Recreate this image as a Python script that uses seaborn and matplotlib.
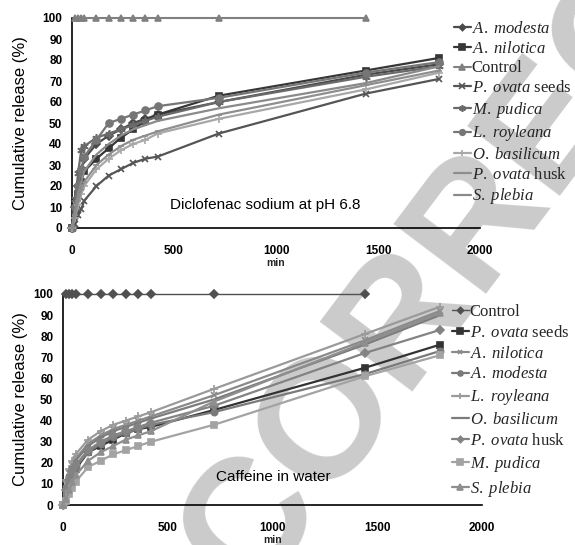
import numpy as np
import pandas as pd
import matplotlib
matplotlib.use("Agg")
import matplotlib.pyplot as plt
import seaborn as sns

# ---------------- data ----------------
time_min = [0, 15, 30, 45, 60, 120, 180, 240, 300, 360, 420, 720, 1440, 1800]
control_time = [15, 30, 45, 60, 120, 180, 240, 300, 360, 420, 720, 1440]
control_value = [100] * 12

# Diclofenac sodium at pH 6.8
dic_labels = ["A. modesta", "A. nilotica", "Control", "P. ovata seeds", "M. pudica",
              "L. royleana", "O. basilicum", "P. ovata husk", "S. plebia"]
dic_a_modesta = [0, 10, 20, 27, 33, 40, 44, 47, 50, 52, 54, 60, 73, 78]
dic_a_nilotica = [0, 8, 16, 22, 27, 33, 38, 43, 47, 51, 54, 63, 75, 81]
dic_p_ovata_seeds = [0, 2, 6, 9, 13, 20, 25, 28, 31, 33, 34, 45, 64, 71]
dic_m_pudica = [0, 14, 26, 37, 39, 43, 45, 47, 49, 51, 53, 60, 72, 77]
dic_l_royleana = [0, 10, 20, 28, 34, 42, 50, 52, 54, 56, 58, 62, 74, 79]
dic_o_basilicum = [0, 5, 11, 16, 20, 28, 33, 37, 40, 42, 45, 52, 66, 74]
dic_p_ovata_husk = [0, 6, 13, 18, 22, 30, 35, 39, 42, 44, 46, 54, 68, 75]
dic_s_plebia = [0, 8, 16, 22, 27, 35, 40, 44, 47, 49, 51, 57, 69, 77]

# Caffeine in water
caf_labels = ["Control", "P. ovata seeds", "A. nilotica", "A. modesta", "L. royleana",
              "O. basilicum", "P. ovata husk", "M. pudica", "S. plebia"]
caf_p_ovata_seeds = [0, 6, 10, 14, 17, 25, 28, 31, 34, 36, 37, 45, 65, 76]
caf_a_nilotica = [0, 10, 15, 19, 22, 29, 33, 36, 38, 40, 42, 52, 78, 92]
caf_a_modesta = [0, 8, 12, 15, 18, 25, 29, 32, 34, 36, 38, 44, 62, 73]
caf_l_royleana = [0, 12, 17, 21, 24, 31, 35, 38, 40, 42, 44, 55, 81, 94]
caf_o_basilicum = [0, 9, 14, 18, 21, 28, 32, 35, 37, 39, 41, 50, 76, 90]
caf_p_ovata_husk = [0, 7, 12, 16, 19, 26, 30, 33, 35, 37, 39, 47, 72, 83]
caf_m_pudica = [0, 2, 5, 8, 11, 18, 21, 24, 26, 28, 30, 38, 61, 71]
caf_s_plebia = [0, 3, 7, 11, 14, 21, 25, 28, 31, 33, 35, 49, 77, 91]

x_ticks = [0, 500, 1000, 1500, 2000]
y_ticks = list(range(0, 101, 10))

# ---------------- style ----------------
sns.set_theme(style="white")
plt.rcParams["font.family"] = ["Liberation Sans", "DejaVu Sans"]
plt.rcParams["mathtext.fontset"] = "custom"
plt.rcParams["mathtext.rm"] = "Liberation Serif"
plt.rcParams["mathtext.it"] = "Liberation Serif:italic"


def legend_label(name):
    if name == "Control":
        return "Control"
    parts = name.split(" ")
    if name.startswith("P. ovata"):
        return r"$\mathit{P.\ ovata}$ " + parts[2]
    return r"$\mathit{" + parts[0] + r"\ " + parts[1] + "}$"


fig = plt.figure(figsize=(5.75, 5.45), dpi=100)
ax1 = fig.add_axes([72 / 575, 1 - 228 / 545, 408 / 575, 210 / 545])
ax2 = fig.add_axes([63 / 575, 1 - 505 / 545, 419 / 575, 211 / 545])

# watermark
fig.text(250 / 575, 1 - 598 / 545, "CORRECTED", rotation=53, rotation_mode="anchor",
         ha="left", va="baseline", fontsize=122, fontweight="bold",
         color="#cbcbcb", zorder=-5, family="Liberation Sans")

dic_series = {
    "A. modesta": (dic_a_modesta, "#4a4a4a", "D", 4),
    "A. nilotica": (dic_a_nilotica, "#363636", "s", 5),
    "Control": (None, "#808080", "^", 5),
    "P. ovata seeds": (dic_p_ovata_seeds, "#555555", "x", 5),
    "M. pudica": (dic_m_pudica, "#6a6a6a", (6, 2, 0), 6),
    "L. royleana": (dic_l_royleana, "#767676", "o", 5),
    "O. basilicum": (dic_o_basilicum, "#a8a8a8", "+", 6),
    "P. ovata husk": (dic_p_ovata_husk, "#8e8e8e", "_", 5),
    "S. plebia": (dic_s_plebia, "#8a8a8a", None, 0),
}

caf_series = {
    "Control": (None, "#505050", "D", 4),
    "P. ovata seeds": (caf_p_ovata_seeds, "#333333", "s", 5),
    "A. nilotica": (caf_a_nilotica, "#8a8a8a", "x", 4),
    "A. modesta": (caf_a_modesta, "#7a7a7a", "o", 4.5),
    "L. royleana": (caf_l_royleana, "#9a9a9a", "+", 6),
    "O. basilicum": (caf_o_basilicum, "#7c7c7c", "_", 5),
    "P. ovata husk": (caf_p_ovata_husk, "#838383", "D", 4),
    "M. pudica": (caf_m_pudica, "#a3a3a3", "s", 5),
    "S. plebia": (caf_s_plebia, "#8e8e8e", "^", 5),
}


def draw(ax, labels, series, ctrl_lw):
    for name in labels:
        vals, col, mk, ms = series[name]
        if vals is None:
            xs, ys, lw = control_time, control_value, ctrl_lw
        else:
            xs, ys, lw = time_min, vals, 1.6
        sns.lineplot(x=xs, y=ys, ax=ax, color=col, marker=mk, markersize=ms,
                     markeredgecolor=col, markeredgewidth=1.2, linewidth=lw,
                     label=legend_label(name), clip_on=False, zorder=3)
    ax.set_facecolor("none")
    ax.set_xlim(0, 2000)
    ax.set_ylim(0, 100)
    ax.set_xticks(x_ticks)
    ax.set_yticks(y_ticks)
    ax.set_xticklabels([str(v) for v in x_ticks], fontsize=8.5, fontweight="bold")
    ax.set_yticklabels([str(v) for v in y_ticks], fontsize=8.5, fontweight="bold")
    for s in ["top", "right"]:
        ax.spines[s].set_visible(False)
    for s in ["left", "bottom"]:
        ax.spines[s].set_color("black")
        ax.spines[s].set_linewidth(1.2)
    ax.tick_params(axis="x", direction="in", length=4, width=1.1, pad=12, colors="black")
    ax.tick_params(axis="y", direction="out", length=3, width=1.1, pad=4, colors="black")
    ax.set_xlabel("min", fontsize=7.5, fontweight="bold", labelpad=1)
    ax.set_ylabel("Cumulative release (%)", fontsize=12, color="black")


draw(ax1, dic_labels, dic_series, 1.5)
draw(ax2, caf_labels, caf_series, 1.0)

ax1.yaxis.set_label_coords(-0.108, 0.5)
ax2.yaxis.set_label_coords(-0.084, 0.5)

ax1.text(0.24, 0.11, "Diclofenac sodium at pH 6.8", transform=ax1.transAxes,
         fontsize=11, va="center", ha="left", color="black")
ax2.text(0.365, 0.133, "Caffeine in water", transform=ax2.transAxes,
         fontsize=11, va="center", ha="left", color="black")

leg_common = dict(frameon=False, handlelength=1.0, handletextpad=0.05,
                  borderpad=0, borderaxespad=0, markerscale=0.8,
                  prop={"family": "Liberation Serif", "size": 12})
ax1.legend(loc="upper left", bbox_to_anchor=(454 / 575, 1 - 21 / 545),
           bbox_transform=fig.transFigure, labelspacing=0.22, **leg_common)
ax2.legend(loc="upper left", bbox_to_anchor=(452 / 575, 1 - 304 / 545),
           bbox_transform=fig.transFigure, labelspacing=0.29, **leg_common)

fig.savefig("out.png", dpi=100)
